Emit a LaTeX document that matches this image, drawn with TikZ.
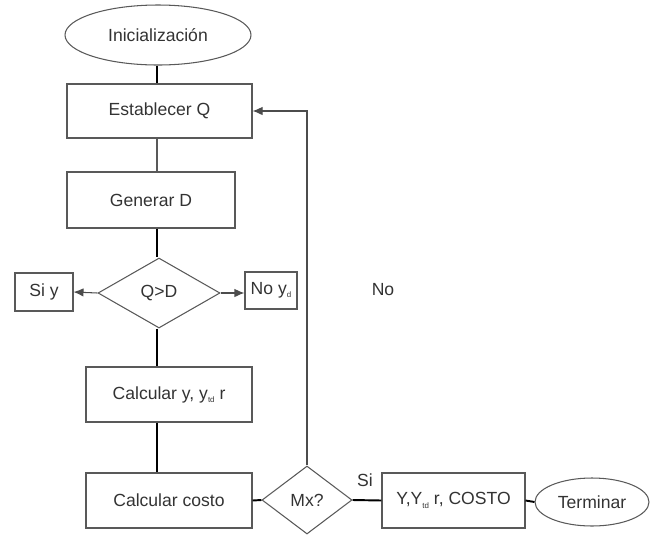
\documentclass[tikz,border=0pt]{standalone}
\usepackage{fontspec}
\setmainfont{Liberation Sans}
\usetikzlibrary{shapes.geometric,arrows.meta}
\def\sub#1{\raisebox{-0.35ex}{\fontsize{4.5}{5}\selectfont #1}}
\tikzset{
	box/.style={draw=black!65, line width=0.6pt, text=black!80, inner sep=0pt},
	term/.style={ellipse, draw=black!65, line width=0.6pt, text=black!80, inner sep=0pt},
	cond/.style={diamond, draw=black!65, line width=0.6pt, text=black!80, inner sep=0pt},
	thickline/.style={line width=1.1pt, black},
	thinline/.style={line width=0.6pt, black!65},
	arr/.style={line width=0.6pt, black!70, -{Latex[length=2mm,width=1.7mm]}}
}

\begin{document}
\begin{tikzpicture}
			%%%%% START %%%%%
			\useasboundingbox (0, 0) rectangle (13.1, -10.7);
			\coordinate (spine) at (3.14, 0);
			
			\node[term, minimum width=3.72cm, minimum height=1.2cm] (ini) at (3.16, -0.70) {Inicialización};
			\node[box, minimum width=3.7cm, minimum height=1.08cm] (estab) at (3.19, -2.22) {Establecer Q};
			\node[box, minimum width=3.36cm, minimum height=1.12cm] (gen) at (3.02, -4.0) {Generar D};
			\node[cond, minimum width=2.44cm, minimum height=1.4cm] (qd) at (3.18, -5.86) {Q>D};
			\node[box, minimum width=1.16cm, minimum height=0.76cm] (siy) at (0.88, -5.84) {Si y};
			\node[box, minimum width=1.04cm, minimum height=0.74cm] (noy) at (5.42, -5.81) {No y\sub{d}};
			\node[text=black!80] (no) at (7.66, -5.8) {No};
			
			\node[box, minimum width=3.32cm, minimum height=1.1cm] (calcy) at (3.38, -7.89) {Calcular y, y\sub{td} r};
			\node[box, minimum width=3.32cm, minimum height=1.1cm] (costo) at (3.38, -10.01) {Calcular costo};
			\node[cond, minimum width=1.8cm, minimum height=1.36cm] (mx) at (6.14, -10.0) {Mx?};
			\node[text=black!80] (si) at (7.3, -9.6) {Si};
			\node[box, minimum width=2.86cm, minimum height=1.1cm] (res) at (9.07, -10.01) {Y,Y\sub{td} r, COSTO};
			\node[term, minimum width=2.28cm, minimum height=0.96cm] (fin) at (11.84, -10.04) {Terminar};
			
			\draw[thickline] (ini.south -| spine) -- (estab.north -| spine);
			\draw[thinline] (estab.south -| spine) -- (gen.north -| spine);
			\draw[thickline] (gen.south -| spine) -- (qd.north -| spine);
			\draw[arr] (qd.west) -- (siy.east);
			\draw[arr] (qd.east) -- (qd.east -| noy.west);
			\draw[thickline] (qd.south -| spine) -- (calcy.north -| spine);
			\draw[thickline] (calcy.south -| spine) -- (costo.north -| spine);
			
			\draw[thickline] (costo.east) -- (mx.west);
			\draw[thickline] (mx.east) -- (res.west);
			\draw[thickline] (res.east) -- (fin.west);
			\draw[arr] (mx.north) |- (estab.east);
			
			%%%%% END %%%%%
\end{tikzpicture}
\end{document}
